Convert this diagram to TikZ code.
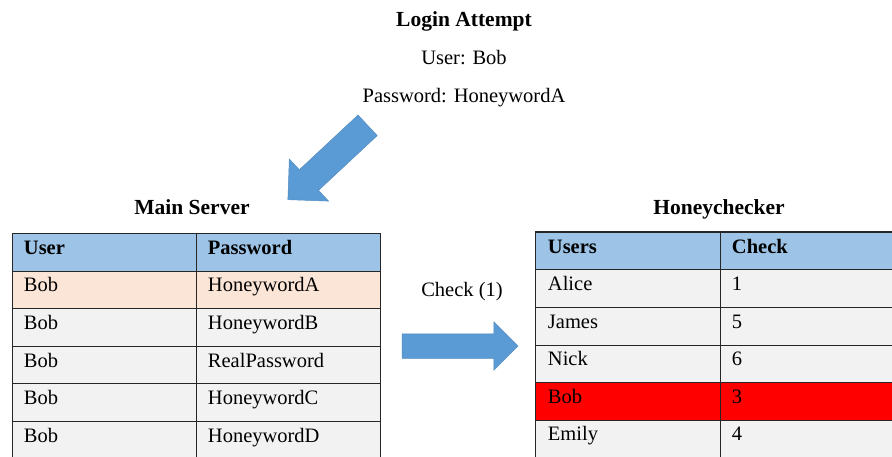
\documentclass[tikz,border=0pt]{standalone}
\usepackage{fontspec}
\setmainfont{Liberation Serif}
\usepackage{tikz}
\usetikzlibrary{shapes.arrows,positioning}

\definecolor{headblue}{HTML}{9DC3E6}
\definecolor{rowpink}{HTML}{FBE5D6}
\definecolor{rowgrey}{HTML}{F2F2F2}
\definecolor{rowred}{HTML}{FF0000}
\definecolor{arrowblue}{HTML}{5B9BD5}

\tikzset{
	cell/.style={draw=black!85, line width=0.9pt, anchor=north west, inner xsep=11.5pt, inner ysep=0pt,
		minimum height=37.6pt, text height=13pt, text depth=9pt, align=left},
	wide/.style={text width=161pt},
	head/.style={cell, wide, fill=headblue, font=\rmfamily\bfseries\fontsize{20.5}{24}\selectfont},
	title/.style={font=\rmfamily\bfseries\fontsize{21.5}{25}\selectfont, anchor=base},
	plain/.style={anchor=base},
	blockarrow/.style={single arrow, fill=arrowblue, draw=arrowblue!90!black, line width=0.5pt,
		inner xsep=0pt, shape border rotate=0}
}

\begin{document}
\begin{tikzpicture}[x=1pt, y=-1pt, font=\rmfamily\fontsize{20.5}{24}\selectfont]
		\useasboundingbox[fill=white] (0,0) rectangle (892,457);

		% login attempt
		\node[title] (login) at (464,27) {Login Attempt};
		\node[plain] (user) at (464,65) {User: Bob};
		\node[plain] (pass) at (464,103) {Password: HoneywordA};

		% main server table
		\node[title] (main) at (192,215) {Main Server};
		\node[head] (U0) at (12,233) {User};
		\node[head] (P0) at (196,233) {Password};
		\foreach \i/\f/\p in {1/rowpink/HoneywordA, 2/rowgrey/HoneywordB, 3/rowgrey/RealPassword,
				4/rowgrey/HoneywordC, 5/rowgrey/HoneywordD} {
			\node[cell, wide, fill=\f] (U\i) at (12,233+37.6*\i) {Bob};
			\node[cell, wide, fill=\f] (P\i) at (196,233+37.6*\i) {\p};
		}

		% honeychecker table
		\node[title] (honey) at (719,215) {Honeychecker};
		\node[head, text width=160pt, inner xsep=12.5pt] (N0) at (535,232) {Users};
		\node[head] (K0) at (720,232) {Check};
		\foreach \i/\f/\n/\k in {1/rowgrey/Alice/1, 2/rowgrey/James/5, 3/rowgrey/Nick/6,
				4/rowred/Bob/3, 5/rowgrey/Emily/4} {
			\node[cell, wide, fill=\f, text width=160pt, inner xsep=12.5pt, minimum height=37.5pt] (N\i) at (535,232+37.5*\i) {\n};
			\node[cell, wide, fill=\f, minimum height=37.5pt] (K\i) at (720,232+37.5*\i) {\k};
		}
		\draw[line width=1.6pt, black!85] (N0.north west) -- (892,232);

		% arrows
		\node[blockarrow, minimum height=109pt, inner ysep=13.8pt, single arrow head extend=14.7pt,
			rotate=223] (down) at (332.9,157.7) {};
		\node[plain] (check) at (462,297) {Check (1)};
		\node[blockarrow, minimum height=116pt, inner ysep=12pt, single arrow head extend=12pt]
			(right) at (454,346) {};
	\end{tikzpicture}
\end{document}
